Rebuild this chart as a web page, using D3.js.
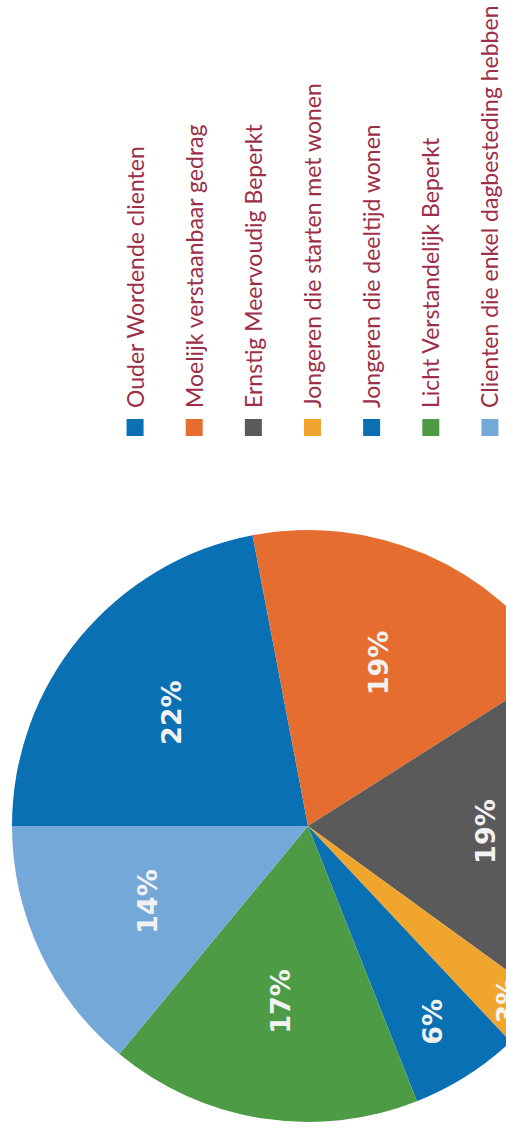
<!DOCTYPE html>
<html>
<head>
<meta charset="utf-8">
<script src="https://cdn.jsdelivr.net/npm/d3@7"></script>
<style>
  html, body { margin: 0; padding: 0; background: #ffffff; }
  svg { display: block; }
</style>
</head>
<body>
<svg id="chart" width="506" height="1137"></svg>
<script>
// Doelgroepen: share of clients per group (percent)
const categories = [
  "Ouder Wordende clienten",
  "Moelijk verstaanbaar gedrag",
  "Ernstig Meervoudig Beperkt",
  "Jongeren die starten met wonen",
  "Jongeren die deeltijd wonen",
  "Licht Verstandelijk Beperkt",
  "Clienten die enkel dagbesteding hebben"
];
const values = [22, 19, 19, 3, 6, 17, 14];
const sliceColors = ["#0a70b4", "#e56d2f", "#5a5a5a", "#efa52e", "#0a70b4", "#4e9b45", "#74a8d8"];

const W = 506, H = 1137;
const svg = d3.select("#chart");

// The whole chart is laid out landscape (H wide, W tall) and turned a quarter turn
const root = svg.append("g")
  .attr("transform", `translate(0,${H}) rotate(-90)`);

const data = categories.map((c, i) => ({ name: c, value: values[i], color: sliceColors[i] }));

// ---- pie ----
const cx = 311, cy = 308, radius = 296;
const pie = d3.pie().value(d => d.value).sort(null);
const arc = d3.arc().innerRadius(0).outerRadius(radius);

// narrow slices push their label further towards the rim (best-fit style)
function labelPos(d) {
  const span = (d.endAngle - d.startAngle) * 180 / Math.PI;
  const x = Math.max(0, (55 - span) / 55);
  const f = 0.6 + Math.max(0, 0.55 * x - 0.15);
  const r = radius * f;
  return d3.arc().innerRadius(r).outerRadius(r).centroid(d);
}

const pieG = root.append("g").attr("transform", `translate(${cx},${cy})`);
const arcs = pie(data);

pieG.selectAll("path.slice")
  .data(arcs)
  .join("path")
  .attr("class", "slice")
  .attr("d", arc)
  .attr("fill", d => d.data.color);

pieG.selectAll("text.pct")
  .data(arcs)
  .join("text")
  .attr("class", "pct")
  .attr("transform", d => `translate(${labelPos(d)})`)
  .attr("text-anchor", "middle")
  .attr("dominant-baseline", "central")
  .attr("font-family", "DejaVu Sans, Verdana, sans-serif")
  .attr("font-weight", "bold")
  .attr("font-size", 27)
  .attr("fill", "#f2f2f2")
  .text(d => d.data.value + "%");

// ---- legend ----
const legendX = 701;
const rowY = d3.scaleBand()
  .domain(categories)
  .range([105, 519])
  .paddingInner(0);

const legend = root.append("g");
const items = legend.selectAll("g.item")
  .data(data)
  .join("g")
  .attr("class", "item")
  .attr("transform", d => `translate(${legendX},${rowY(d.name) + rowY.bandwidth() / 2})`);

items.append("rect")
  .attr("x", 0)
  .attr("y", -8)
  .attr("width", 17)
  .attr("height", 17)
  .attr("fill", d => d.color);

items.append("text")
  .attr("x", 28)
  .attr("y", 9)
  .attr("font-family", "Lato, 'Open Sans', sans-serif")
  .attr("font-size", 23)
  .attr("fill", "#9c2f47")
  .text(d => d.name);
</script>
</body>
</html>
